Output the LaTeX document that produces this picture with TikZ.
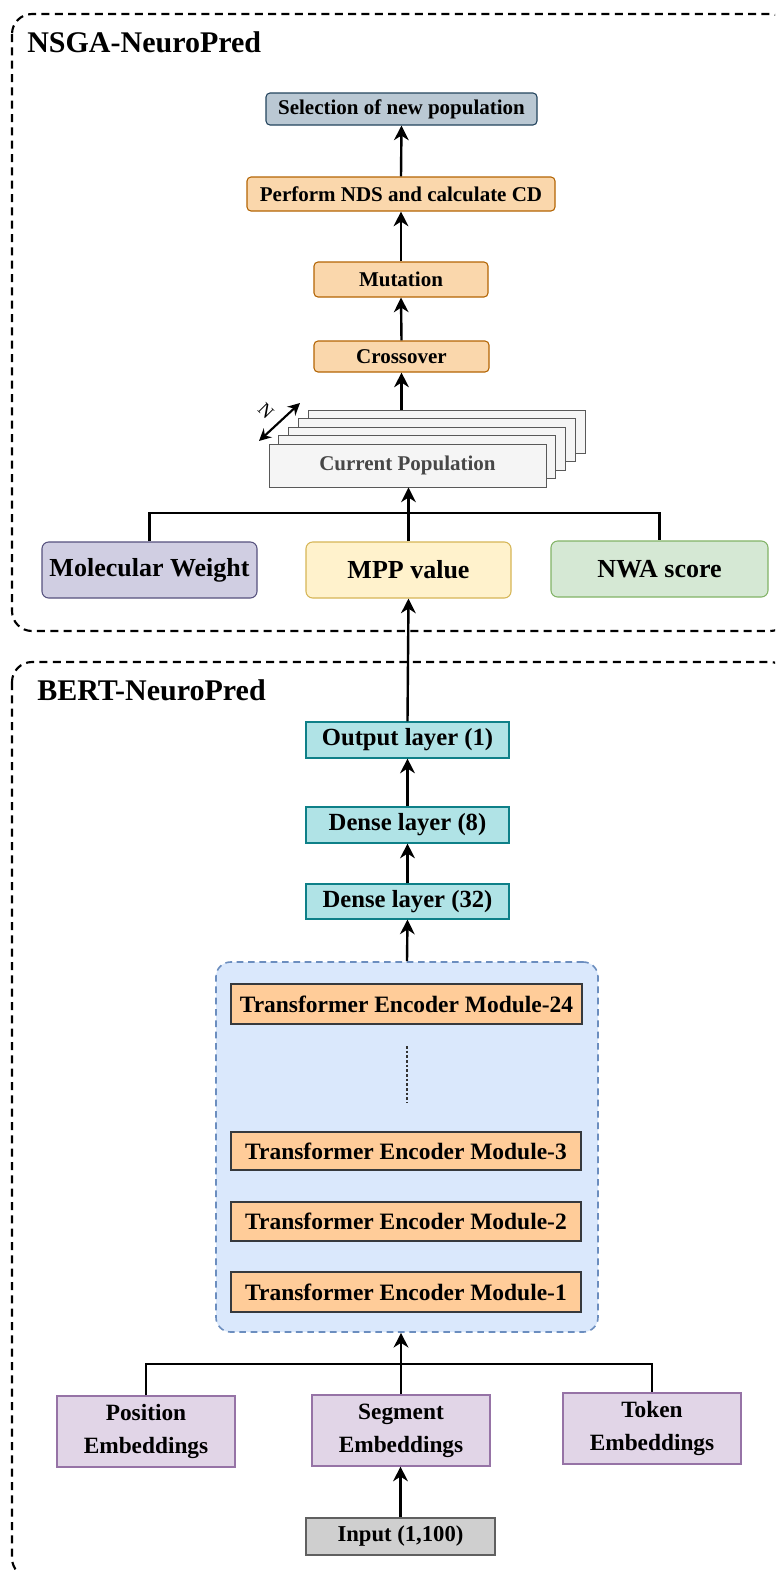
\documentclass[tikz,border=0pt]{standalone}
\usepackage{fontspec}
\setmainfont{Liberation Serif}
\usetikzlibrary{arrows.meta}

% corner-based box: name, x1, y1, x2, y2, style, text (pixel units)
\newcommand\bx[7]{%
  \node[#6, minimum width={((#4)-(#2))*0.75pt}, minimum height={((#5)-(#3))*0.75pt}]
    (#1) at ({((#2)+(#4))/2},{((#3)+(#5))/2}) {#7};}

\tikzset{
  base/.style={draw, inner sep=0pt, align=center, text=black},
  group/.style={draw=black, line width=1.6pt, dash pattern=on 6pt off 4pt, rounded corners=15pt},
  title/.style={anchor=base west, inner sep=0pt, font=\fontsize{22.5}{27}\selectfont\bfseries},
  gastep/.style={base, rounded corners=3pt, line width=0.8pt,
    font=\fontsize{15.75}{19}\selectfont\bfseries},
  objbox/.style={base, rounded corners=5pt, line width=0.8pt,
    font=\fontsize{19.5}{23}\selectfont\bfseries},
  popbox/.style={base, fill=gray!8, draw=gray!70!black, line width=0.7pt,
    font=\fontsize{15.75}{19}\selectfont\bfseries, text=black!72},
  layerbox/.style={base, fill=tealfill, draw=tealline, line width=0.8pt,
    font=\fontsize{18.5}{22}\selectfont\bfseries},
  container/.style={base, fill=encfill, draw=encline, line width=1.2pt,
    dash pattern=on 5pt off 3.5pt, rounded corners=11pt},
  module/.style={base, fill=modfill, draw=modline, line width=1.6pt,
    font=\fontsize{17.6}{21}\selectfont\bfseries},
  embbox/.style={base, fill=embfill, draw=embline, line width=0.8pt,
    font=\fontsize{17.5}{25}\selectfont\bfseries},
  inbox/.style={base, fill=infill, draw=gray!75!black, line width=0.8pt,
    font=\fontsize{17}{20}\selectfont\bfseries},
  conn/.style={line width=1.8pt, -{Stealth[length=11pt, width=11pt, inset=3.5pt]}},
  link/.style={line width=1.8pt},
  dotline/.style={line width=0.8pt, draw=black!80, dash pattern=on 2pt off 1.5pt}
}

\definecolor{selfill}{HTML}{BAC8D3}
\definecolor{selline}{HTML}{23445D}
\definecolor{orfill}{HTML}{FAD7AC}
\definecolor{orline}{HTML}{B46504}
\definecolor{mwfill}{HTML}{D0CEE2}
\definecolor{mwline}{HTML}{56517E}
\definecolor{mppfill}{HTML}{FFF2CC}
\definecolor{mppline}{HTML}{D6B656}
\definecolor{nwafill}{HTML}{D5E8D4}
\definecolor{nwaline}{HTML}{82B366}
\definecolor{tealfill}{HTML}{B0E3E6}
\definecolor{tealline}{HTML}{0E8088}
\definecolor{encfill}{HTML}{DAE8FC}
\definecolor{encline}{HTML}{6C8EBF}
\definecolor{modfill}{HTML}{FFCC99}
\definecolor{modline}{HTML}{36393D}
\definecolor{embfill}{HTML}{E1D5E7}
\definecolor{embline}{HTML}{9673A6}
\definecolor{infill}{HTML}{CFCFCF}

\begin{document}
\begin{tikzpicture}[x=0.75pt,y=-0.75pt]
\clip (0,0) rectangle (775,1571);
\fill[white] (0,0) rectangle (775,1571);

% ---------- NSGA-NeuroPred ----------
\draw[group] (12,14) rectangle (790,631);
\node[title] (nsgatitle) at (27,52) {NSGA-NeuroPred};

\bx{sel}{266}{93}{537}{125}{gastep, fill=selfill, draw=selline}{Selection of new population}
\bx{nds}{247}{177}{555}{211}{gastep, fill=orfill, draw=orline}{Perform NDS and calculate CD}
\bx{mut}{314}{262}{488}{297}{gastep, fill=orfill, draw=orline}{Mutation}
\bx{cross}{314}{341}{489}{372}{gastep, fill=orfill, draw=orline}{Crossover}

% stacked population sheets, back to front
\bx{pop5}{308}{410}{585}{453}{popbox}{}
\bx{pop4}{298.25}{418.5}{575.25}{461.5}{popbox}{}
\bx{pop3}{288.5}{427}{565.5}{470}{popbox}{}
\bx{pop2}{278.75}{435.5}{555.75}{478.5}{popbox}{}
\bx{pop1}{269}{444}{546}{487}{popbox}{Current Population}

\coordinate (na) at (259,441);
\coordinate (nb) at (300,403);
\draw[line width=1.6pt, {Stealth[length=9pt, width=9pt, inset=3pt]}-{Stealth[length=9pt, width=9pt, inset=3pt]}] (na) -- (nb);
\node[rotate=-45, inner sep=0pt, font=\fontsize{14}{16}\selectfont] (nlab) at (266,411) {N};

\bx{mw}{42}{542}{257}{598}{objbox, fill=mwfill, draw=mwline}{Molecular Weight}
\bx{mpp}{306}{542}{511}{598}{objbox, fill=mppfill, draw=mppline}{MPP value}
\bx{nwa}{551}{541}{768}{597}{objbox, fill=nwafill, draw=nwaline}{NWA score}

\draw[conn] (nds.north) -- (sel.south);
\draw[conn] (mut.north) -- (nds.south);
\draw[conn] (cross.north) -- (mut.south);
\draw[conn] (cross.south |- pop5.north) -- (cross.south);
\coordinate (jn) at (408,513);
\draw[link] (mw.north) |- (jn) -| (nwa.north);
\draw[conn] (mpp.north) -- (mpp.north |- pop1.south);

% ---------- BERT-NeuroPred ----------
\draw[group] (12,662) rectangle (790,1578);
\node[title] (berttitle) at (37,700) {BERT-NeuroPred};

\bx{out}{306}{722}{509}{758}{layerbox}{Output layer (1)}
\bx{d8}{306}{807}{509}{843}{layerbox}{Dense layer (8)}
\bx{d32}{306}{884}{509}{919}{layerbox}{Dense layer (32)}

\bx{enc}{216}{962}{598}{1332}{container}{}
\bx{m24}{231}{984}{582}{1024}{module}{Transformer Encoder Module-24}
\bx{m3}{231}{1132}{581}{1170}{module}{Transformer Encoder Module-3}
\bx{m2}{231}{1202}{581}{1241}{module}{Transformer Encoder Module-2}
\bx{m1}{231}{1272}{581}{1312}{module}{Transformer Encoder Module-1}
\coordinate (dtop) at (407,1046);
\coordinate (dbot) at (407,1103);
\draw[dotline] (dtop) -- (dbot);

\bx{pos}{57}{1396}{235}{1467}{embbox}{Position\\Embeddings}
\bx{seg}{312}{1395}{490}{1466}{embbox}{Segment\\Embeddings}
\bx{tok}{563}{1393}{741}{1464}{embbox}{Token\\Embeddings}
\bx{inp}{306}{1518}{495}{1555}{inbox}{Input (1,100)}

\draw[conn] (out.north) -- (mpp.south);
\draw[conn] (d8.north) -- (out.south);
\draw[conn] (d32.north) -- (d8.south);
\draw[conn] (enc.north) -- (d32.south);
\coordinate (jb) at (401,1364);
\draw[link] (pos.north) |- (jb) -| (tok.north);
\draw[conn] (seg.north) -- (seg.north |- enc.south);
\draw[conn] (inp.north) -- (inp.north |- seg.south);
\end{tikzpicture}
\end{document}
